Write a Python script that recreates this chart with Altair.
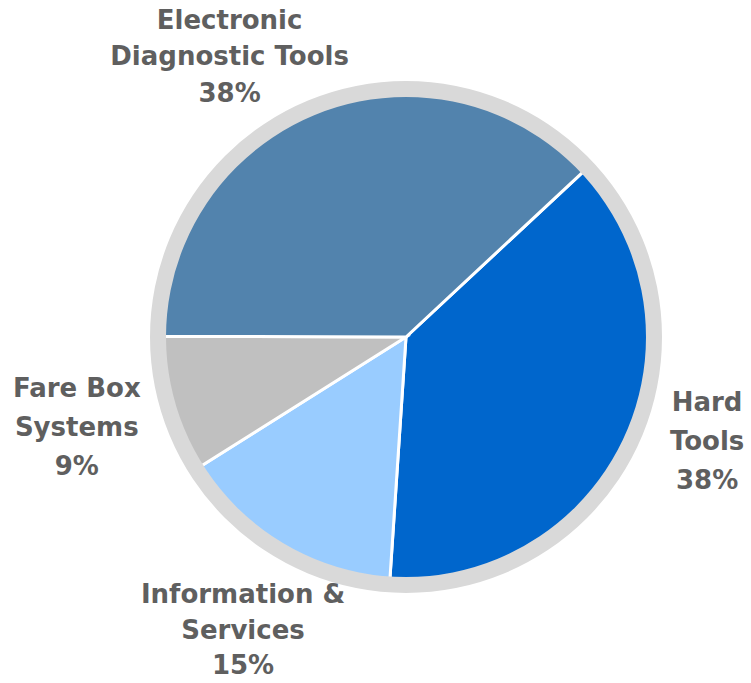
import math
import altair as alt

# ---- data ----
categories = ["Hard Tools", "Information & Services", "Fare Box Systems", "Electronic Diagnostic Tools"]
shares = [38, 15, 9, 38]
label_lines = [["Hard", "Tools"], ["Information &", "Services"], ["Fare Box", "Systems"], ["Electronic", "Diagnostic Tools"]]
colors = ["#0066CC", "#99CCFF", "#C0C0C0", "#5283AD"]

records = [
    {"category": c, "share": s, "idx": i, "label": lines + [f"{s}%"]}
    for i, (c, s, lines) in enumerate(zip(categories, shares, label_lines))
]
data = alt.Data(values=records)
total = sum(shares)

# ---- layout ----
W, H = 751, 683
CX, CY = 406, 337
START = math.radians(47)
theta_scale = alt.Scale(domain=[0, total], range=[START, START + 2 * math.pi])

pie = alt.Chart(data).mark_arc(outerRadius=242.5, stroke="white", strokeWidth=3).encode(
    theta=alt.Theta("share:Q", stack=True, scale=theta_scale),
    order=alt.Order("idx:Q"),
    color=alt.Color("category:N", scale=alt.Scale(domain=categories, range=colors), legend=None),
    x=alt.value(CX),
    y=alt.value(CY),
)

ring = alt.Chart(alt.Data(values=[{"r": 1}])).mark_arc(
    innerRadius=240, outerRadius=256, theta=0, theta2=2 * math.pi, color="#D9D9D9"
).encode(x=alt.value(CX), y=alt.value(CY))

label_base = alt.Chart(data).transform_window(
    cum="sum(share)", sort=[alt.SortField("idx")]
).transform_calculate(mid="datum.cum - datum.share / 2")

offsets = [(3, -76, 39), (6, -25, 35.5), (-12, -39, 39), (-56, -9, 36.5)]
label_layers = []
for i, (ddx, ddy, lh) in enumerate(offsets):
    label_layers.append(
        label_base.transform_filter(alt.datum.idx == i).mark_text(
            font="DejaVu Sans", fontSize=26, fontWeight="bold", color="#5F5F5F",
            lineHeight=lh, align="center", baseline="middle", radius=330, dx=ddx, dy=ddy,
        ).encode(
            text="label:N",
            theta=alt.Theta("mid:Q", scale=theta_scale),
            x=alt.value(CX),
            y=alt.value(CY),
        )
    )

chart = alt.layer(pie, ring, *label_layers).properties(
    width=W, height=H, autosize="none", padding=0
).configure_view(stroke=None)

chart.save("out.html", embed_options={"renderer": "svg", "actions": False})
